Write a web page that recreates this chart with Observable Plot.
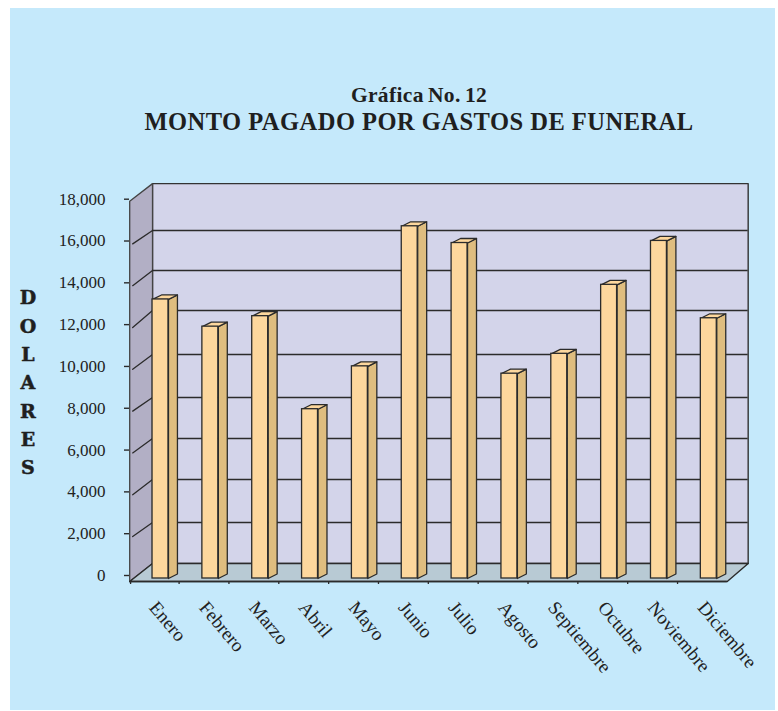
<!DOCTYPE html>
<html><head><meta charset="utf-8">
<script src="https://cdn.jsdelivr.net/npm/d3@7"></script>
<script src="https://cdn.jsdelivr.net/npm/@observablehq/plot@0.6"></script>
<style>
html,body{margin:0;padding:0;background:#fff;overflow:hidden}
#panel{position:absolute;left:10px;top:8px;width:765px;height:702px;background:#c5e9fb}
#chart{position:absolute;left:0;top:0}
#chart svg{background:transparent}
.t{position:absolute;left:0;width:838px;text-align:center;font-family:"Liberation Serif",serif;font-weight:bold;color:#1f1f1f;white-space:nowrap}
#t1{top:83px;font-size:21.5px;letter-spacing:.35px;word-spacing:-1.5px}
#t2{top:108px;font-size:24.5px;letter-spacing:.48px}
</style></head><body>
<div id="panel"></div>
<div id="chart"></div>
<div class="t" id="t1">Gráfica No. 12</div>
<div class="t" id="t2">MONTO PAGADO POR GASTOS DE FUNERAL</div>
<script>
const months = ["Enero","Febrero","Marzo","Abril","Mayo","Junio","Julio","Agosto","Septiembre","Octubre","Noviembre","Diciembre"];
const values = [13300,12000,12500,8050,10100,16800,16000,9750,10700,14000,16100,12400];
const yTicks = [0,2000,4000,6000,8000,10000,12000,14000,16000,18000];
const wallLines = [2631,4688,6649,8610,10667,12771,14685,16598];
const yAxisTitle = "DOLARES";

// depth of the pseudo-3D box, in scale units
const barHalf = 0.16, barDepthX = 0.18, barDepthY = 215;
const wallX0 = -0.16, wallX1 = 11.79, frontX0 = -0.618, frontX1 = 11.37;
const wallBottom = 670, wallTop = 18841, frontBottom = -190;

const poly = (id, pts) => pts.map(([x,y]) => ({id,x,y}));
const barFace = (fn) => values.flatMap((v,i) => fn(v,i));
const sideFaces = barFace((v,i) => poly(i,[
  [i+barHalf,-48],[i+barHalf+barDepthX,-48+barDepthY],[i+barHalf+barDepthX,v+barDepthY],[i+barHalf,v]]));
const topFaces = barFace((v,i) => poly(i,[
  [i-barHalf,v],[i+barHalf,v],[i+barHalf+barDepthX,v+barDepthY],[i-barHalf+barDepthX,v+barDepthY]]));
const fronts = values.map((v,i) => ({x1:i-barHalf,x2:i+barHalf,y1:-48,y2:v}));

const shape = (pts, o) => Plot.line(pts,{x:"x",y:"y",z:"id",curve:"linear-closed",strokeLinejoin:"round",...o});
const ink = "#2b2b2b";

const chart = Plot.plot({
  width:778, height:711,
  marginLeft:129, marginRight:30, marginTop:183, marginBottom:130,
  style:{background:"transparent",fontFamily:"'Liberation Serif',serif",overflow:"visible"},
  x:{type:"linear",domain:[0,11],range:[160,708.3]},
  y:{type:"linear",domain:[0,18000],range:[577,200.7]},
  marks:[
    // back wall, side wall, floor
    shape(poly("wall",[[wallX0,wallBottom],[wallX1,wallBottom],[wallX1,wallTop],[wallX0,wallTop]]),{fill:"#d3d4ea",stroke:"#333",strokeWidth:1.4}),
    shape(poly("side",[[frontX0,frontBottom],[frontX0,18000],[wallX0,wallTop],[wallX0,wallBottom]]),{fill:"#b2afc5",stroke:"#444",strokeWidth:1.3}),
    shape(poly("floor",[[frontX0,frontBottom],[wallX0,wallBottom],[wallX1,wallBottom],[frontX1,frontBottom]]),{fill:"#b8cad4",stroke:ink,strokeWidth:1.4}),
    // gridlines on the back wall and on the side wall
    Plot.ruleY(wallLines,{y:d=>d,x1:wallX0,x2:wallX1,stroke:ink,strokeWidth:1.4}),
    Plot.line(yTicks.slice(1,-1).flatMap((t,i)=>[{id:i,x:frontX0+0.06,y:t-40},{id:i,x:wallX0,y:wallLines[i]}]),{x:"x",y:"y",z:"id",stroke:ink,strokeWidth:1.3}),
    // bars
    shape(sideFaces,{fill:"#dfbd7f",stroke:ink,strokeWidth:1.3}),
    shape(topFaces,{fill:"#fdd79d",stroke:ink,strokeWidth:1.3}),
    Plot.rect(fronts,{x1:"x1",x2:"x2",y1:"y1",y2:"y2",fill:"#fdd79d",stroke:ink,strokeWidth:1.3}),
    // axes
    Plot.ruleY([frontBottom],{x1:frontX0,x2:frontX1,stroke:ink,strokeWidth:1.6}),
    Plot.axisY({ticks:yTicks,tickFormat:d3.format(","),anchor:"left",tickSize:5,tickPadding:19,fontSize:17,stroke:ink,strokeWidth:1.4,fill:"#222",dy:-2,label:null}),
    Plot.axisX({ticks:[-0.6,...months.map((m,i)=>i+0.373).slice(0,11)],tickFormat:()=>"",tickSize:3,stroke:ink,strokeWidth:1.3,label:null}),
    Plot.text(months,{x:(d,i)=>i,y:-1270,text:d=>d,rotate:50,textAnchor:"start",dx:-7.5,fontSize:19,letterSpacing:"0.6px",fill:"#222"}),
    Plot.text([yAxisTitle.split("").join("\n")],{x:-2.66,y:9435,text:d=>d,lineHeight:1.49,fontSize:19,fontWeight:"bold",fill:"#1f1f1f",stroke:"#1f1f1f",strokeWidth:0.5,
      render:(i,s,v,d,c,next)=>{const g=next(i,s,v,d,c); g.querySelectorAll("text,tspan").forEach(e=>e.style.fontFamily="'DejaVu Serif'"); return g;}})
  ]
});
document.getElementById("chart").append(chart);
</script>
</body></html>
